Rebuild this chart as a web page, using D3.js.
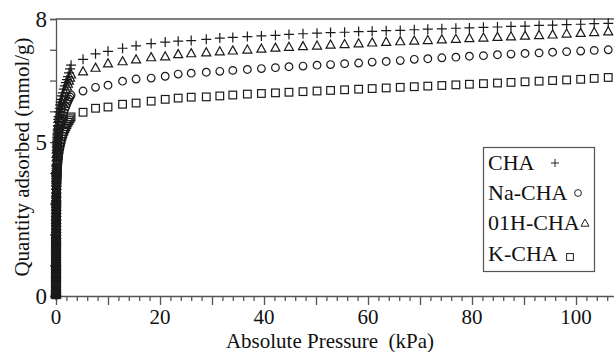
<!DOCTYPE html>
<html><head><meta charset="utf-8">
<script src="https://cdn.jsdelivr.net/npm/d3@7"></script>
<style>body{margin:0;background:#fff}svg{display:block}</style>
</head><body><svg id="c" width="614" height="352"></svg>
<script>
// Shared pressures (kPa)
const pressures = [0.0003,0.0005,0.00075,0.001,0.00125,0.0015,0.00175,0.002,0.0025,0.003,0.0035,0.004,0.0045,0.005,0.0055,0.006,0.0065,0.007,0.0075,0.008,0.0085,0.009,0.0095,0.01,0.011,0.012,0.013,0.014,0.015,0.016,0.017,0.018,0.019,0.02,0.0215,0.023,0.0245,0.026,0.028,0.03,0.0325,0.035,0.0375,0.04,0.0425,0.045,0.0475,0.05,0.055,0.06,0.065,0.07,0.075,0.08,0.085,0.09,0.095,0.1,
 0.12,0.14,0.16,0.18,0.2,0.23,0.26,0.3,0.35,0.4,0.45,0.5,0.6,0.7,0.8,0.9,1.0,1.15,1.3,1.5,1.7,1.9,2.1,2.3,2.5,2.7,2.9,
 5.2,7.6,10,12.8,15.4,18.3,21,23.5,26,28.9,31.5,34,36.8,39.5,42.2,44.8,47.5,50.2,52.8,55.5,58.2,60.8,63.5,66.2,68.9,71.5,74.2,76.9,79.5,82.2,84.9,87.5,90.2,92.9,95.5,98.2,100.9,103.5,106.2];
const cha = [0.05,0.08,0.12,0.15,0.19,0.23,0.27,0.3,0.37,0.43,0.49,0.55,0.61,0.66,0.72,0.77,0.83,0.88,0.93,0.98,1.03,1.08,1.13,1.17,1.26,1.35,1.44,1.52,1.6,1.68,1.76,1.83,1.9,1.97,2.07,2.17,2.26,2.35,2.46,2.57,2.69,2.8,2.9,3.0,3.09,3.18,3.26,3.33,3.47,3.6,3.71,3.82,3.91,4.0,4.08,4.15,4.22,4.28,
 4.5,4.67,4.81,4.93,5.03,5.16,5.27,5.4,5.53,5.64,5.74,5.83,5.98,6.1,6.21,6.3,6.39,6.5,6.6,6.72,6.83,6.93,7.03,7.13,7.25,7.38,7.5,
 7.69,7.87,7.95,8.05,8.13,8.2,8.25,8.28,8.3,8.34,8.38,8.4,8.43,8.45,8.47,8.5,8.52,8.54,8.56,8.57,8.59,8.6,8.62,8.63,8.65,8.67,8.68,8.7,8.71,8.73,8.74,8.76,8.77,8.79,8.8,8.82,8.83,8.85,8.86];
const naCha = [0.04,0.07,0.1,0.13,0.17,0.2,0.23,0.26,0.32,0.38,0.44,0.49,0.54,0.59,0.64,0.69,0.74,0.78,0.83,0.87,0.92,0.96,1.0,1.04,1.12,1.2,1.28,1.35,1.42,1.49,1.56,1.63,1.69,1.75,1.84,1.93,2.01,2.09,2.19,2.29,2.39,2.49,2.58,2.67,2.75,2.83,2.9,2.96,3.08,3.2,3.3,3.4,3.48,3.56,3.63,3.69,3.75,3.81,
 4.0,4.16,4.28,4.39,4.48,4.59,4.69,4.81,4.92,5.02,5.11,5.19,5.32,5.43,5.52,5.6,5.68,5.78,5.87,5.97,6.07,6.16,6.25,6.33,6.4,6.47,6.53,
 6.66,6.78,6.85,6.98,7.05,7.08,7.14,7.21,7.24,7.27,7.3,7.33,7.36,7.39,7.42,7.45,7.47,7.5,7.52,7.55,7.57,7.6,7.62,7.65,7.69,7.71,7.74,7.76,7.79,7.81,7.84,7.86,7.88,7.9,7.92,7.94,7.96,7.98,8.0];
const h01Cha = [0.05,0.08,0.11,0.14,0.18,0.22,0.26,0.29,0.35,0.41,0.47,0.53,0.59,0.64,0.69,0.74,0.8,0.85,0.9,0.94,0.99,1.04,1.09,1.13,1.22,1.3,1.38,1.46,1.54,1.62,1.69,1.76,1.83,1.9,2.0,2.09,2.18,2.27,2.38,2.48,2.59,2.7,2.8,2.9,2.99,3.07,3.14,3.21,3.34,3.47,3.58,3.69,3.78,3.86,3.93,4.0,4.07,4.13,
 4.34,4.51,4.64,4.76,4.85,4.98,5.09,5.21,5.34,5.45,5.55,5.63,5.78,5.9,6.0,6.09,6.18,6.29,6.39,6.5,6.61,6.71,6.81,6.9,7.0,7.1,7.2,
 7.3,7.42,7.56,7.63,7.69,7.76,7.79,7.86,7.89,7.92,7.95,7.98,8.01,8.04,8.07,8.1,8.12,8.14,8.17,8.19,8.21,8.24,8.26,8.28,8.3,8.32,8.34,8.36,8.38,8.4,8.42,8.44,8.46,8.48,8.5,8.53,8.55,8.58,8.6];
const kCha = [0.04,0.06,0.09,0.12,0.15,0.18,0.21,0.24,0.29,0.34,0.39,0.44,0.49,0.53,0.58,0.62,0.66,0.7,0.74,0.78,0.82,0.86,0.9,0.93,1.0,1.07,1.14,1.21,1.27,1.33,1.39,1.45,1.51,1.56,1.64,1.72,1.79,1.86,1.95,2.04,2.13,2.22,2.3,2.38,2.45,2.52,2.58,2.64,2.75,2.86,2.95,3.03,3.1,3.17,3.23,3.29,3.34,3.39,
 3.56,3.7,3.81,3.91,3.99,4.09,4.18,4.29,4.39,4.48,4.56,4.63,4.75,4.85,4.94,5.02,5.09,5.18,5.26,5.35,5.43,5.5,5.57,5.64,5.7,5.76,5.82,
 5.97,6.1,6.14,6.23,6.27,6.33,6.39,6.43,6.46,6.47,6.5,6.53,6.56,6.58,6.6,6.62,6.64,6.66,6.68,6.7,6.72,6.74,6.76,6.78,6.8,6.82,6.84,6.86,6.88,6.9,6.92,6.94,6.96,6.98,7.0,7.02,7.04,7.07,7.1];
const seriesNames = ["CHA","Na-CHA","01H-CHA","K-CHA"];
const seriesValues = [cha, naCha, h01Cha, kCha];
const seriesSymbols = ["plus","circle","triangle","square"];
const xTicks = [0,20,40,60,80,100];
const yTickValues = [0,5,9];
const yTickLabels = ["0","5","8"];

const FONT = "'Liberation Serif', 'DejaVu Serif', 'Times New Roman', serif";
const svg = d3.select("#c");
const x = d3.scaleLinear().domain([0,110]).range([56,628]);
const y = d3.scaleLinear().domain([0,9]).range([296,19]);
const axisColor = "#555";

function sym(g, type, s){
  const h = s/2;
  if(type==="plus"){
    g.append("path").attr("d",`M${-h},0H${h}M0,${-h}V${h}`);
  } else if(type==="circle"){
    g.append("circle").attr("r",h*0.85);
  } else if(type==="triangle"){
    g.append("path").attr("d",`M0,${-h}L${h},${h*0.8}L${-h},${h*0.8}Z`);
  } else {
    g.append("rect").attr("x",-h*0.85).attr("y",-h*0.85).attr("width",h*1.7).attr("height",h*1.7);
  }
}
function txt(sel){ return sel.attr("font-family",FONT).attr("fill","#111"); }

// frame top line
svg.append("line").attr("x1",56).attr("x2",614).attr("y1",19).attr("y2",19).attr("stroke",axisColor).attr("stroke-width",1.3);

// x axis
const xg = svg.append("g").attr("transform","translate(0,296)");
xg.call(d3.axisBottom(x).tickValues(d3.range(0,111,2)).tickSize(5).tickFormat(""));
xg.selectAll(".tick line").attr("y2",d=>d%10===0?9:5);
xg.selectAll("path,line").attr("stroke",axisColor).attr("stroke-width",1.3);
svg.append("g").selectAll("text").data(xTicks).join("text").call(txt)
  .attr("x",d=>x(d)).attr("y",324).attr("text-anchor","middle").attr("font-size",21).text(d=>d);

// y axis
const yg = svg.append("g").attr("transform","translate(56,0)");
yg.call(d3.axisLeft(y).tickValues(d3.range(0,10,1)).tickSize(6).tickFormat(""));
yg.selectAll("path,line").attr("stroke",axisColor).attr("stroke-width",1.3);
svg.append("g").selectAll("text").data(yTickValues).join("text").call(txt)
  .attr("x",47).attr("y",d=>y(d)+8).attr("text-anchor","end").attr("font-size",23).text((d,i)=>yTickLabels[i]);

// titles
svg.append("text").call(txt).attr("x",330).attr("y",348).attr("text-anchor","middle").attr("font-size",21).text("Absolute Pressure\u00a0\u00a0(kPa)");
svg.append("text").call(txt).attr("transform","translate(29,157) rotate(-90)").attr("text-anchor","middle").attr("font-size",21).text("Quantity adsorbed (mmol/g)");

// data
const plot = svg.append("g");
seriesValues.forEach((vals,si)=>{
  const type = seriesSymbols[si];
  const g = plot.append("g").attr("fill","none").attr("stroke","#1a1a1a").attr("stroke-width",1.2);
  vals.forEach((v,i)=>{
    const m = g.append("g").attr("transform",`translate(${x(pressures[i])},${y(v)})`);
    sym(m,type,type==="plus"?10:9);
  });
});

// legend
const lg = svg.append("g");
lg.append("rect").attr("x",483.5).attr("y",147.5).attr("width",111).attr("height",124).attr("fill","#fff").attr("stroke",axisColor).attr("stroke-width",1.2);
const lText=[170,200,230,261];
const lMark=[[555,163],[578,193],[585,223],[570,257]];
seriesNames.forEach((n,i)=>{
  lg.append("text").call(txt).attr("x",488).attr("y",lText[i]).attr("font-size",22).text(n);
  const m = lg.append("g").attr("fill","none").attr("stroke","#222").attr("stroke-width",1).attr("transform",`translate(${lMark[i][0]},${lMark[i][1]})`);
  sym(m,seriesSymbols[i],8);
});
</script></body></html>
